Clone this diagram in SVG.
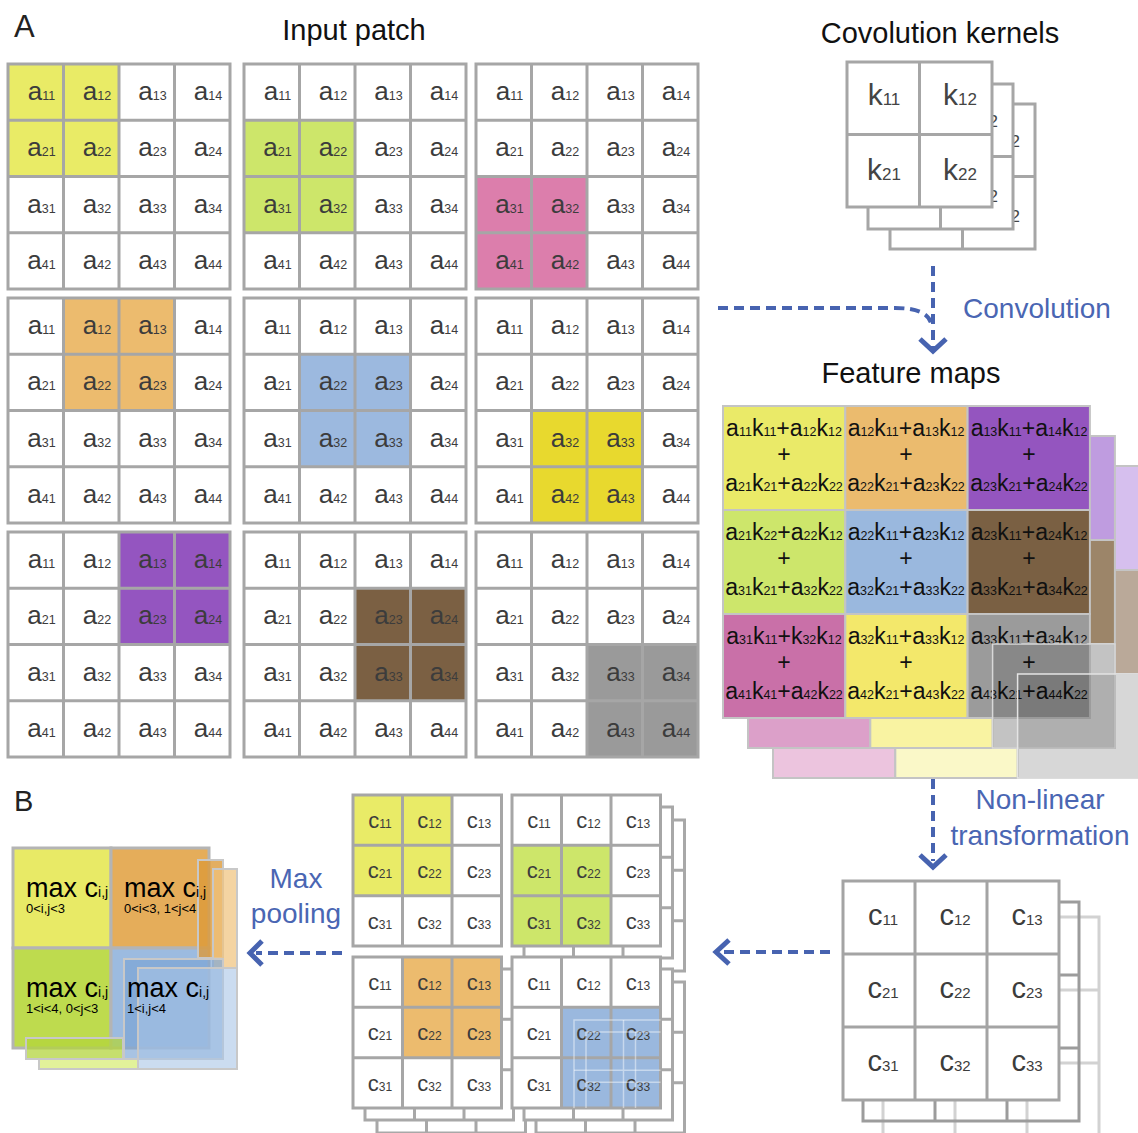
<svg xmlns="http://www.w3.org/2000/svg" xmlns:xlink="http://www.w3.org/1999/xlink" width="1138" height="1133" viewBox="0 0 1138 1133">
<style>
text{font-family:"Liberation Sans",Arial,sans-serif}
.ag text{font-size:26px;fill:#3c3c3c;text-anchor:middle}
.s12{font-size:12.5px}
.ln{fill:none;stroke:#a6a6a6;stroke-width:3}
.kg text{font-size:30px;fill:#444;text-anchor:middle}
.s16{font-size:17px}
.fm text{font-size:23px;fill:#111;text-anchor:middle}
.f{font-size:12.5px}
.fc{stroke:#c4c4c4;stroke-width:2}
.cs text{font-size:22px;fill:#3c3c3c;text-anchor:middle}
.s11{font-size:12px}
.cb text{font-size:29px;fill:#3c3c3c;text-anchor:middle}
.s14{font-size:15px}
.mp14{font-size:14px}
.title{font-size:29px;fill:#111;text-anchor:middle}
.blue{font-size:28px;fill:#4a66b3;text-anchor:middle}
.dash{fill:none;stroke:#4763b0;stroke-width:4;stroke-dasharray:10 6}
.head{fill:none;stroke:#4763b0;stroke-width:5}
.mp{stroke:#b4b4b4;stroke-width:3}
.mt{font-size:27px;fill:#000}
.mt2{font-size:13px;fill:#000}
</style>
<defs>
<g id="a4" class="ag">
<rect class="ln" x="0" y="0" width="222" height="225"/>
<path class="ln" d="M55.5,0V225M111,0V225M166.5,0V225M0,56.25H222M0,112.5H222M0,168.75H222"/>
<text x="33.5" y="36">a<tspan class="s12">11</tspan></text>
<text x="89" y="36">a<tspan class="s12">12</tspan></text>
<text x="144.5" y="36">a<tspan class="s12">13</tspan></text>
<text x="200" y="36">a<tspan class="s12">14</tspan></text>
<text x="33.5" y="92.25">a<tspan class="s12">21</tspan></text>
<text x="89" y="92.25">a<tspan class="s12">22</tspan></text>
<text x="144.5" y="92.25">a<tspan class="s12">23</tspan></text>
<text x="200" y="92.25">a<tspan class="s12">24</tspan></text>
<text x="33.5" y="148.5">a<tspan class="s12">31</tspan></text>
<text x="89" y="148.5">a<tspan class="s12">32</tspan></text>
<text x="144.5" y="148.5">a<tspan class="s12">33</tspan></text>
<text x="200" y="148.5">a<tspan class="s12">34</tspan></text>
<text x="33.5" y="204.75">a<tspan class="s12">41</tspan></text>
<text x="89" y="204.75">a<tspan class="s12">42</tspan></text>
<text x="144.5" y="204.75">a<tspan class="s12">43</tspan></text>
<text x="200" y="204.75">a<tspan class="s12">44</tspan></text>
</g>
<g id="k2" class="kg">
<rect x="0" y="0" width="145" height="145" fill="#fff" stroke="#a6a6a6" stroke-width="3"/>
<path class="ln" d="M72.5,0V145M0,72.5H145"/>
<text x="37" y="43">k<tspan class="s16">11</tspan></text>
<text x="113" y="43">k<tspan class="s16">12</tspan></text>
<text x="37" y="118">k<tspan class="s16">21</tspan></text>
<text x="113" y="118">k<tspan class="s16">22</tspan></text>
</g>
<g id="c3s-bg">
<rect x="0" y="0" width="148.5" height="151" fill="#fff" stroke="#a8a8a8" stroke-width="3"/>
<path fill="none" stroke="#a8a8a8" stroke-width="3" d="M49.5,0V151M99,0V151M0,50.33H148.5M0,100.67H148.5"/>
</g>
<g id="c3s" class="cs">
<rect class="ln" x="0" y="0" width="148.5" height="151"/>
<path class="ln" d="M49.5,0V151M99,0V151M0,50.33H148.5M0,100.67H148.5"/>
<text x="27" y="33">c<tspan class="s11">11</tspan></text>
<text x="76.5" y="33">c<tspan class="s11">12</tspan></text>
<text x="126" y="33">c<tspan class="s11">13</tspan></text>
<text x="27" y="83.3">c<tspan class="s11">21</tspan></text>
<text x="76.5" y="83.3">c<tspan class="s11">22</tspan></text>
<text x="126" y="83.3">c<tspan class="s11">23</tspan></text>
<text x="27" y="133.6">c<tspan class="s11">31</tspan></text>
<text x="76.5" y="133.6">c<tspan class="s11">32</tspan></text>
<text x="126" y="133.6">c<tspan class="s11">33</tspan></text>
</g>
<g id="c3b-lines">
<rect x="0" y="0" width="216" height="219" fill="none" stroke-width="3"/>
<path fill="none" stroke-width="3" d="M72,0V219M144,0V219M0,73H216M0,146H216"/>
</g>
<g id="c3b" class="cb">
<rect x="0" y="0" width="216" height="219" fill="#fff" stroke="#a4a4a4" stroke-width="3"/>
<path fill="none" stroke="#a4a4a4" stroke-width="3" d="M72,0V219M144,0V219M0,73H216M0,146H216"/>
<text x="40" y="44">c<tspan class="s14">11</tspan></text>
<text x="112" y="44">c<tspan class="s14">12</tspan></text>
<text x="184" y="44">c<tspan class="s14">13</tspan></text>
<text x="40" y="117">c<tspan class="s14">21</tspan></text>
<text x="112" y="117">c<tspan class="s14">22</tspan></text>
<text x="184" y="117">c<tspan class="s14">23</tspan></text>
<text x="40" y="190">c<tspan class="s14">31</tspan></text>
<text x="112" y="190">c<tspan class="s14">32</tspan></text>
<text x="184" y="190">c<tspan class="s14">33</tspan></text>
</g>
<clipPath id="bluebox"><rect x="561.5" y="1007.3" width="99" height="100.7"/></clipPath>
</defs>

<rect width="1138" height="1133" fill="#fff"/>

<!-- labels -->
<text x="14" y="37" font-size="31" fill="#222">A</text>
<text x="14" y="811" font-size="29" fill="#222">B</text>
<text class="title" x="354" y="40">Input patch</text>
<text class="title" x="940" y="43">Covolution kernels</text>
<text class="blue" x="1037" y="318">Convolution</text>
<text class="title" x="911" y="383" font-size="34" fill="#000">Feature maps</text>
<text class="blue" x="1040" y="809">Non-linear</text>
<text class="blue" x="1040" y="845">transformation</text>
<text class="blue" x="296" y="888">Max</text>
<text class="blue" x="296" y="923">pooling</text>

<!-- input patches -->
<g id="patch-1" transform="translate(8,64)"><rect width="222" height="225" fill="#fff"/><rect x="0" y="0" width="111" height="112.5" fill="#e9eb66"/><use href="#a4"/></g>
<g id="patch-2" transform="translate(244,64)"><rect width="222" height="225" fill="#fff"/><rect x="0" y="56.25" width="111" height="112.5" fill="#cde66a"/><use href="#a4"/></g>
<g id="patch-3" transform="translate(476,64)"><rect width="222" height="225" fill="#fff"/><rect x="0" y="112.5" width="111" height="112.5" fill="#dc7eac"/><use href="#a4"/></g>
<g id="patch-4" transform="translate(8,298)"><rect width="222" height="225" fill="#fff"/><rect x="55.5" y="0" width="111" height="112.5" fill="#ecbb6e"/><use href="#a4"/></g>
<g id="patch-5" transform="translate(244,298)"><rect width="222" height="225" fill="#fff"/><rect x="55.5" y="56.25" width="111" height="112.5" fill="#9cb9df"/><use href="#a4"/></g>
<g id="patch-6" transform="translate(476,298)"><rect width="222" height="225" fill="#fff"/><rect x="55.5" y="112.5" width="111" height="112.5" fill="#e8d92e"/><use href="#a4"/></g>
<g id="patch-7" transform="translate(8,532)"><rect width="222" height="225" fill="#fff"/><rect x="111" y="0" width="111" height="112.5" fill="#9455c0"/><use href="#a4"/></g>
<g id="patch-8" transform="translate(244,532)"><rect width="222" height="225" fill="#fff"/><rect x="111" y="56.25" width="111" height="112.5" fill="#7b6043"/><use href="#a4"/></g>
<g id="patch-9" transform="translate(476,532)"><rect width="222" height="225" fill="#fff"/><rect x="111" y="112.5" width="111" height="112.5" fill="#9a9a9a"/><use href="#a4"/></g>

<!-- kernels -->
<g id="kernels">
<use href="#k2" x="890" y="104"/>
<use href="#k2" x="868" y="84"/>
<use href="#k2" x="847" y="62"/>
</g>

<!-- feature maps -->
<g id="feature-maps" class="fm">
<g class="fc">
<rect x="1017.6" y="466" width="122.3" height="104" fill="#d6bfee"/>
<rect x="1017.6" y="570" width="122.3" height="104" fill="#baa999"/>
<rect x="1017.6" y="674" width="122.3" height="104" fill="#f0f0f0"/>
<rect x="773" y="674" width="122.3" height="104" fill="#ecc4de"/>
<rect x="895.3" y="674" width="122.3" height="104" fill="#faf8c8"/>
<rect x="992.6" y="436" width="122.3" height="104" fill="#bf9ce0"/>
<rect x="992.6" y="540" width="122.3" height="104" fill="#9c8569"/>
<rect x="992.6" y="644" width="122.3" height="104" fill="#dfdfdf"/>
<rect x="748" y="644" width="122.3" height="104" fill="#dca0c9"/>
<rect x="870.3" y="644" width="122.3" height="104" fill="#f9f3a2"/>
<rect x="723" y="406" width="122.3" height="104" fill="#eaea68"/>
<rect x="845.3" y="406" width="122.3" height="104" fill="#ebbb6e"/>
<rect x="967.6" y="406" width="122.3" height="104" fill="#9455bf"/>
<rect x="723" y="510" width="122.3" height="104" fill="#cde66b"/>
<rect x="845.3" y="510" width="122.3" height="104" fill="#9ab8de"/>
<rect x="967.6" y="510" width="122.3" height="104" fill="#7a6043"/>
<rect x="723" y="614" width="122.3" height="104" fill="#c970a8"/>
<rect x="845.3" y="614" width="122.3" height="104" fill="#f3e86b"/>
<rect x="967.6" y="614" width="122.3" height="104" fill="#9b9b9b"/>
</g>
<text x="784" y="436">a<tspan class="f">11</tspan>k<tspan class="f">11</tspan>+a<tspan class="f">12</tspan>k<tspan class="f">12</tspan></text>
<text x="784" y="462">+</text>
<text x="784" y="491">a<tspan class="f">21</tspan>k<tspan class="f">21</tspan>+a<tspan class="f">22</tspan>k<tspan class="f">22</tspan></text>
<text x="906" y="436">a<tspan class="f">12</tspan>k<tspan class="f">11</tspan>+a<tspan class="f">13</tspan>k<tspan class="f">12</tspan></text>
<text x="906" y="462">+</text>
<text x="906" y="491">a<tspan class="f">22</tspan>k<tspan class="f">21</tspan>+a<tspan class="f">23</tspan>k<tspan class="f">22</tspan></text>
<text x="1029" y="436">a<tspan class="f">13</tspan>k<tspan class="f">11</tspan>+a<tspan class="f">14</tspan>k<tspan class="f">12</tspan></text>
<text x="1029" y="462">+</text>
<text x="1029" y="491">a<tspan class="f">23</tspan>k<tspan class="f">21</tspan>+a<tspan class="f">24</tspan>k<tspan class="f">22</tspan></text>
<text x="784" y="540">a<tspan class="f">21</tspan>k<tspan class="f">22</tspan>+a<tspan class="f">22</tspan>k<tspan class="f">12</tspan></text>
<text x="784" y="566">+</text>
<text x="784" y="595">a<tspan class="f">31</tspan>k<tspan class="f">21</tspan>+a<tspan class="f">32</tspan>k<tspan class="f">22</tspan></text>
<text x="906" y="540">a<tspan class="f">22</tspan>k<tspan class="f">11</tspan>+a<tspan class="f">23</tspan>k<tspan class="f">12</tspan></text>
<text x="906" y="566">+</text>
<text x="906" y="595">a<tspan class="f">32</tspan>k<tspan class="f">21</tspan>+a<tspan class="f">33</tspan>k<tspan class="f">22</tspan></text>
<text x="1029" y="540">a<tspan class="f">23</tspan>k<tspan class="f">11</tspan>+a<tspan class="f">24</tspan>k<tspan class="f">12</tspan></text>
<text x="1029" y="566">+</text>
<text x="1029" y="595">a<tspan class="f">33</tspan>k<tspan class="f">21</tspan>+a<tspan class="f">34</tspan>k<tspan class="f">22</tspan></text>
<text x="784" y="644">a<tspan class="f">31</tspan>k<tspan class="f">11</tspan>+k<tspan class="f">32</tspan>k<tspan class="f">12</tspan></text>
<text x="784" y="670">+</text>
<text x="784" y="699">a<tspan class="f">41</tspan>k<tspan class="f">41</tspan>+a<tspan class="f">42</tspan>k<tspan class="f">22</tspan></text>
<text x="906" y="644">a<tspan class="f">32</tspan>k<tspan class="f">11</tspan>+a<tspan class="f">33</tspan>k<tspan class="f">12</tspan></text>
<text x="906" y="670">+</text>
<text x="906" y="699">a<tspan class="f">42</tspan>k<tspan class="f">21</tspan>+a<tspan class="f">43</tspan>k<tspan class="f">22</tspan></text>
<text x="1029" y="644">a<tspan class="f">33</tspan>k<tspan class="f">11</tspan>+a<tspan class="f">34</tspan>k<tspan class="f">12</tspan></text>
<text x="1029" y="670">+</text>
<text x="1029" y="699">a<tspan class="f">43</tspan>k<tspan class="f">21</tspan>+a<tspan class="f">44</tspan>k<tspan class="f">22</tspan></text>
<rect x="992.6" y="644" width="122.3" height="104" fill="#000" fill-opacity="0.12" stroke="#d8d8d8" stroke-width="1.5"/>
<rect x="1017.6" y="674" width="122.3" height="104" fill="#000" fill-opacity="0.1" stroke="#e4e4e4" stroke-width="1.5"/>
</g>

<!-- transformed maps (c) -->
<g id="c-maps">
<use href="#c3b-lines" x="883" y="917" stroke="#d2d2d2"/>
<use href="#c3b-lines" x="863" y="902" stroke="#9c9c9c"/>
<use href="#c3b" x="843" y="881"/>
</g>

<!-- pooling windows -->
<g id="pool-windows">
<use href="#c3s-bg" x="536" y="820"/>
<use href="#c3s-bg" x="524" y="807"/>
<use href="#c3s-bg" x="377" y="982"/>
<use href="#c3s-bg" x="365" y="969"/>
<use href="#c3s-bg" x="536" y="982"/>
<use href="#c3s-bg" x="524" y="969"/>
<g id="c-tl" transform="translate(353,795)"><rect width="148.5" height="151" fill="#fff"/><rect x="0" y="0" width="99" height="100.67" fill="#e9eb67"/><use href="#c3s"/></g>
<g id="c-tr" transform="translate(512,795)"><rect width="148.5" height="151" fill="#fff"/><rect x="0" y="50.33" width="99" height="100.67" fill="#cde66a"/><use href="#c3s"/></g>
<g id="c-bl" transform="translate(353,957)"><rect width="148.5" height="151" fill="#fff"/><rect x="49.5" y="0" width="99" height="100.67" fill="#ecbb6e"/><use href="#c3s"/></g>
<g id="c-br" transform="translate(512,957)"><rect width="148.5" height="151" fill="#fff"/><rect x="49.5" y="50.33" width="99" height="100.67" fill="#9ab8de"/><use href="#c3s"/></g>
<g clip-path="url(#bluebox)" fill="none" stroke="#fff" stroke-opacity="0.45" stroke-width="1.5">
<rect x="574" y="1020" width="99" height="100.7"/>
<path d="M623.5,1020V1121M574,1070.3H673"/>
<rect x="586" y="1032" width="99" height="100.7"/>
<path d="M635.5,1032V1133M586,1082.3H685"/>
</g>
</g>

<!-- max pooling result -->
<g id="max-pool">
<g class="mp">
<rect x="13" y="848" width="98" height="100" fill="#e8ea66"/>
<rect x="111" y="848" width="98" height="100" fill="#e5ad5a"/>
<rect x="13" y="948" width="98" height="100" fill="#bedb4e"/>
<rect x="111" y="948" width="98" height="100" fill="#9cbbe0"/>
</g>
<g stroke="#c8c8c8" stroke-width="2">
<rect x="198" y="860" width="25" height="98" fill="#dc9a3a" fill-opacity="0.8"/>
<rect x="213" y="869" width="24" height="99" fill="#efc27a" fill-opacity="0.7"/>
<rect x="124" y="959" width="99" height="100" fill="#7aa3d4" fill-opacity="0.65"/>
<rect x="138" y="968" width="99" height="101" fill="#a9c4e6" fill-opacity="0.6"/>
<rect x="26" y="1038" width="97" height="21" fill="#b3d43c" fill-opacity="0.75"/>
<rect x="39" y="1059" width="99" height="10" fill="#e2f29a"/>
</g>
<text class="mt" x="26" y="897">max c<tspan class="mp14">i,j</tspan></text>
<text class="mt2" x="26" y="913">0&lt;i,j&lt;3</text>
<text class="mt" x="124" y="897">max c<tspan class="mp14">i,j</tspan></text>
<text class="mt2" x="124" y="913">0&lt;i&lt;3, 1&lt;j&lt;4</text>
<text class="mt" x="26" y="997">max c<tspan class="mp14">i,j</tspan></text>
<text class="mt2" x="26" y="1013">1&lt;i&lt;4, 0&lt;j&lt;3</text>
<text class="mt" x="127" y="997">max c<tspan class="mp14">i,j</tspan></text>
<text class="mt2" x="127" y="1013">1&lt;i,j&lt;4</text>
</g>

<!-- connectors -->
<g id="connectors">
<path class="dash" d="M718,308H895Q927,308 931,323"/>
<path class="dash" d="M933,266V348"/>
<path class="head" d="M920,339L933,351L946,339"/>
<path class="dash" d="M933,779V861"/>
<path class="head" d="M920,855L933,867L946,855"/>
<path class="dash" d="M830,952H722"/>
<path class="head" d="M729,940L716,952L729,964"/>
<path class="dash" d="M342,953H256"/>
<path class="head" d="M262,941L250,953L262,965"/>
</g>
</svg>
